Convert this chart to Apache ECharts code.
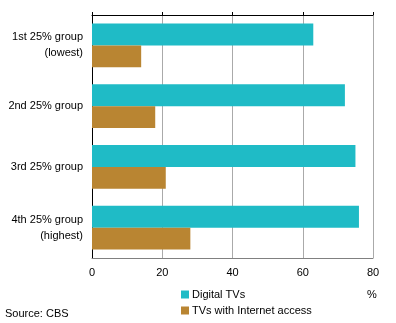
<!DOCTYPE html>
<html>
<head>
<meta charset="utf-8">
<script src="https://cdn.jsdelivr.net/npm/echarts@6/dist/echarts.min.js"></script>
<style>
  html, body { margin: 0; padding: 0; background: #fff; }
  #chart { width: 396px; height: 323px; }
</style>
</head>
<body>
<div id="chart"></div>
<script>
// Income groups (top to bottom)
const categories = [
  '1st 25% group\n(lowest)',
  '2nd 25% group',
  '3rd 25% group',
  '4th 25% group\n(highest)'
];
const seriesNames = ['Digital TVs', 'TVs with Internet access'];
const digitalTVs = [63, 72, 75, 76];
const internetTVs = [14, 18, 21, 28];
const xTicks = [0, 20, 40, 60, 80];

const FONT = '"Liberation Sans", Arial, sans-serif';
const chart = echarts.init(document.getElementById('chart'), null, { renderer: 'canvas' });

function legendRow(name, top) {
  return {
    orient: 'vertical',
    left: 176,
    top: top,
    itemWidth: 8,
    itemHeight: 8,
    itemGap: 4,
    icon: 'rect',
    selectedMode: false,
    textStyle: { fontSize: 11, color: '#000', fontFamily: FONT, padding: [0, 0, 0, -2] },
    data: [name]
  };
}

chart.setOption({
  animation: false,
  textStyle: { fontFamily: FONT },
  grid: { left: 92, right: 23, top: 15, bottom: 65, containLabel: false },
  legend: [legendRow(seriesNames[0], 284), legendRow(seriesNames[1], 300)],
  graphic: [
    { type: 'text', left: 5, top: 308, style: { text: 'Source: CBS', fontSize: 11, fill: '#000', fontFamily: FONT } },
    { type: 'text', left: 367, top: 289, style: { text: '%', fontSize: 11, fill: '#000', fontFamily: FONT } }
  ],
  xAxis: [
    {
      type: 'value',
      position: 'bottom',
      min: xTicks[0],
      max: xTicks[xTicks.length - 1],
      interval: 20,
      axisLine: { show: true, lineStyle: { color: '#808080', width: 1 } },
      axisTick: { show: false },
      axisLabel: { color: '#000', fontSize: 11, fontFamily: FONT, margin: 9 },
      splitLine: { show: true, lineStyle: { color: '#aaaaaa', width: 1 } }
    },
    {
      type: 'value',
      position: 'top',
      min: xTicks[0],
      max: xTicks[xTicks.length - 1],
      interval: 20,
      axisLine: { show: true, lineStyle: { color: '#000', width: 1 } },
      axisTick: { show: true, inside: false, length: 3, lineStyle: { color: '#000' } },
      axisLabel: { show: false },
      splitLine: { show: false }
    }
  ],
  yAxis: {
    type: 'category',
    inverse: true,
    data: categories,
    axisLine: { show: true, lineStyle: { color: '#000', width: 1 } },
    axisTick: { show: false },
    axisLabel: { color: '#000', fontSize: 11, fontFamily: FONT, margin: 9, lineHeight: 16, align: 'right' },
    splitLine: { show: false }
  },
  series: [
    {
      name: seriesNames[0],
      type: 'bar',
      data: digitalTVs,
      barGap: '0%',
      barCategoryGap: '27.6%',
      itemStyle: { color: '#1fbbc6' }
    },
    {
      name: seriesNames[1],
      type: 'bar',
      data: internetTVs,
      itemStyle: { color: '#b98532' }
    }
  ]
});
</script>
</body>
</html>
